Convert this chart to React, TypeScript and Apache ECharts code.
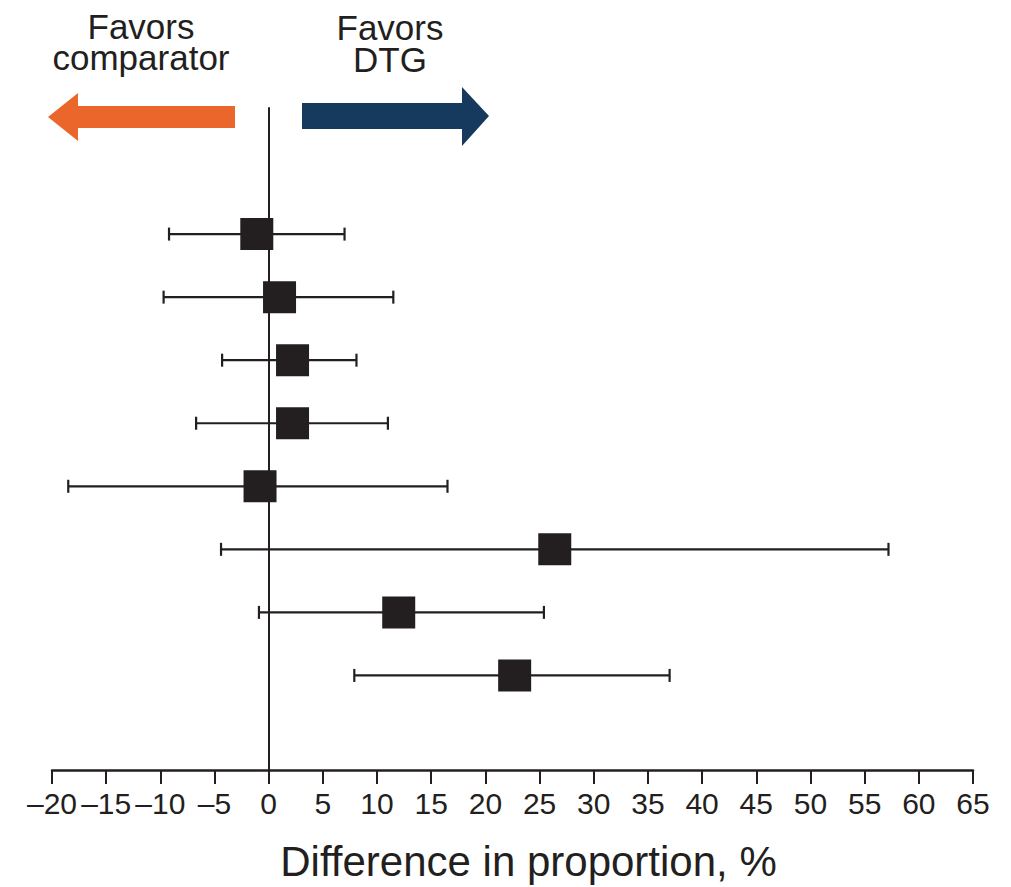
import React, { useEffect, useRef } from "react";
import * as echarts from "echarts";

// Forest plot data (difference in proportion, %)
const rowPositions = [8, 7, 6, 5, 4, 3, 2, 1];
const estimates = [-1.1, 1.0, 2.2, 2.2, -0.8, 26.4, 12.0, 22.7];
const lowerCI = [-9.2, -9.7, -4.3, -6.7, -18.5, -4.4, -0.9, 7.9];
const upperCI = [7.0, 11.5, 8.1, 11.0, 16.5, 57.2, 25.4, 37.0];

const xMin = -20;
const xMax = 65;
const xStep = 5;
const axisTitle = "Difference in proportion, %";
const leftLabel = "Favors\ncomparator";
const rightLabel = "Favors\nDTG";

const INK = "#231f20";
const ORANGE = "#ea662b";
const BLUE = "#153a5d";
const FONT = "'Liberation Sans', Arial, Helvetica, sans-serif";

export default function App() {
  const ref = useRef<HTMLDivElement>(null);

  useEffect(() => {
    if (!ref.current) return;
    const chart = echarts.init(ref.current, undefined, { renderer: "svg" });

    const data = estimates.map((e, i) => [e, rowPositions[i], lowerCI[i], upperCI[i]]);

    chart.setOption({
      animation: false,
      backgroundColor: "#ffffff",
      grid: { left: 52, right: 38, top: 108, bottom: 112, containLabel: false },
      xAxis: {
        type: "value",
        min: xMin,
        max: xMax,
        interval: xStep,
        name: axisTitle,
        nameLocation: "middle",
        nameGap: 70,
        nameTextStyle: { color: INK, fontSize: 42, fontFamily: FONT, padding: [0, 0, 0, 32] },
        axisLine: { show: true, onZero: false, lineStyle: { color: INK, width: 2.5 } },
        axisTick: { show: true, length: 14, lineStyle: { color: INK, width: 2 } },
        axisLabel: {
          color: INK,
          fontSize: 30,
          fontFamily: FONT,
          margin: 18,
          showMinLabel: true,
          showMaxLabel: true,
          hideOverlap: false,
          formatter: (v: number) => (v < 0 ? "\u2013" + Math.abs(v) : String(v)),
        },
        splitLine: { show: false },
      },
      yAxis: {
        type: "value",
        min: -0.5,
        max: 10,
        axisLine: { show: true, onZero: true, lineStyle: { color: INK, width: 2 } },
        axisTick: { show: false },
        axisLabel: { show: false },
        splitLine: { show: false },
      },
      graphic: [
        {
          type: "polygon",
          shape: {
            points: [
              [235, 106], [78, 106], [78, 93], [48, 117], [78, 141], [78, 128], [235, 128],
            ],
          },
          style: { fill: ORANGE },
        },
        {
          type: "polygon",
          shape: {
            points: [
              [302, 103], [462, 103], [462, 87], [489, 116], [462, 146], [462, 129], [302, 129],
            ],
          },
          style: { fill: BLUE },
        },
        {
          type: "text",
          x: 141,
          y: 11,
          style: {
            text: leftLabel,
            fill: INK,
            font: `35px ${FONT}`,
            align: "center",
            verticalAlign: "top",
            lineHeight: 31,
          },
        },
        {
          type: "text",
          x: 390,
          y: 11,
          style: {
            text: rightLabel,
            fill: INK,
            font: `35px ${FONT}`,
            align: "center",
            verticalAlign: "top",
            lineHeight: 32,
          },
        },
      ],
      series: [
        {
          type: "custom",
          data,
          renderItem: (params: any, api: any) => {
            const est = api.value(0);
            const y = api.value(1);
            const lo = api.value(2);
            const hi = api.value(3);
            const pLo = api.coord([lo, y]);
            const pHi = api.coord([hi, y]);
            const pC = api.coord([est, y]);
            const cap = 6.5;
            const w = 33;
            const h = 32;
            return {
              type: "group",
              children: [
                {
                  type: "line",
                  shape: { x1: pLo[0], y1: pLo[1], x2: pHi[0], y2: pHi[1] },
                  style: { stroke: INK, lineWidth: 2.2 },
                },
                {
                  type: "line",
                  shape: { x1: pLo[0], y1: pLo[1] - cap, x2: pLo[0], y2: pLo[1] + cap },
                  style: { stroke: INK, lineWidth: 2.2 },
                },
                {
                  type: "line",
                  shape: { x1: pHi[0], y1: pHi[1] - cap, x2: pHi[0], y2: pHi[1] + cap },
                  style: { stroke: INK, lineWidth: 2.2 },
                },
                {
                  type: "rect",
                  shape: { x: pC[0] - w / 2, y: pC[1] - h / 2, width: w, height: h },
                  style: { fill: INK },
                },
              ],
            };
          },
        },
      ],
    });

    return () => chart.dispose();
  }, []);

  return (
    <div
      ref={ref}
      style={{ position: "fixed", left: 0, top: 0, width: 1011, height: 887, background: "#fff" }}
    />
  );
}
